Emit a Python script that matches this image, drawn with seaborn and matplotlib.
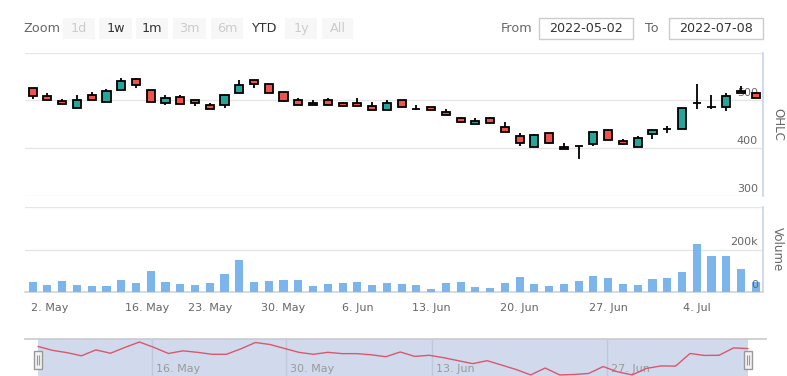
import matplotlib
matplotlib.use('Agg')
import matplotlib.pyplot as plt
from matplotlib.patches import Rectangle
import numpy as np
import seaborn as sns

sns.set_theme(style='white')
plt.rcParams['font.family'] = ['DejaVu Sans']

# ---- data ----
opens = [525.5, 508.5, 498.6, 485.0, 510.6, 496.0, 521.3, 544.7, 521.3, 495.0,
         506.4, 500.0, 491.5, 491.5, 514.9, 542.6, 534.0, 517.0, 500.0, 491.5,
         500.0, 494.3, 494.3, 489.4, 480.9, 501.5, 482.3, 487.2, 476.6, 463.8,
         451.0, 463.8, 444.7, 425.5, 402.1, 432.0, 402.1, 404.0, 408.5, 438.3,
         415.6, 402.1, 430.5, 441.1, 440.4, 495.0, 486.5, 487.2, 519.1, 516.3]
closes = [508.5, 502.0, 493.6, 500.0, 502.0, 519.0, 540.4, 532.0, 497.2, 504.3,
          493.6, 495.0, 482.3, 510.6, 532.6, 534.0, 515.0, 499.3, 491.5, 495.7,
          491.5, 489.4, 489.4, 480.9, 494.3, 487.2, 482.3, 480.9, 470.2, 455.3,
          457.4, 453.2, 434.0, 410.6, 427.7, 410.6, 397.9, 404.0, 434.0, 417.0,
          408.5, 421.3, 438.3, 441.1, 485.1, 495.0, 486.5, 510.0, 514.9, 504.3]
highs = [526.0, 515.6, 503.0, 511.0, 517.0, 523.4, 546.8, 547.5, 521.3, 511.0,
         511.0, 500.0, 495.7, 510.6, 543.3, 542.6, 534.0, 517.0, 505.0, 500.0,
         505.0, 496.5, 505.0, 496.5, 500.0, 501.5, 490.0, 487.2, 481.6, 466.0,
         463.8, 466.0, 454.0, 432.0, 429.8, 432.0, 410.6, 405.0, 434.0, 438.3,
         418.4, 424.8, 438.3, 447.5, 485.1, 534.8, 511.3, 515.6, 529.8, 516.3]
lows = [504.0, 502.0, 493.6, 485.0, 500.0, 496.0, 521.3, 527.0, 497.2, 490.8,
        493.6, 488.7, 482.3, 484.4, 514.9, 527.0, 515.0, 497.2, 490.0, 491.5,
        491.5, 486.5, 489.4, 480.9, 480.9, 487.2, 481.0, 480.9, 470.2, 453.2,
        451.0, 453.2, 434.0, 404.0, 402.1, 408.5, 397.9, 376.6, 404.3, 417.0,
        407.0, 402.1, 418.4, 432.0, 440.4, 483.0, 481.6, 478.0, 514.9, 504.3]
volume_k = [47.6, 33.3, 52.4, 33.3, 28.6, 28.6, 57.1, 42.9, 100.0, 47.6,
            38.1, 33.3, 42.9, 85.7, 152.4, 47.6, 52.4, 57.1, 57.1, 28.6,
            38.1, 42.9, 47.6, 33.3, 42.9, 38.1, 33.3, 14.3, 42.9, 47.6,
            23.8, 19.0, 42.9, 71.4, 38.1, 28.6, 38.1, 52.4, 76.2, 66.7,
            38.1, 33.3, 61.9, 66.7, 95.2, 223.8, 171.4, 171.4, 109.5, 47.6]

date_ticks = [-0.1, 7.75, 12, 17, 22, 27, 33, 39, 45]
date_labels = ['2. May', '16. May', '23. May', '30. May', '6. Jun',
               '13. Jun', '20. Jun', '27. Jun', '4. Jul']
nav_ticks = [7.9, 17.1, 27.2, 39.3]
nav_labels = ['16. May', '30. May', '13. Jun', '27. Jun']

idx = np.arange(len(opens))
opens = np.array(opens)
closes = np.array(closes)
volume = np.array(volume_k) * 1000

UP, DOWN = '#26a69a', '#ef5350'
GRID, AXIS, LABEL = '#e6e6e6', '#ccd6eb', '#666666'

W, H = 787, 376
fig = plt.figure(figsize=(W / 100, H / 100), dpi=100)


def px_axes(x0, y0, x1, y1, **kw):
    return fig.add_axes([x0 / W, 1 - y1 / H, (x1 - x0) / W, (y1 - y0) / H], **kw)


# overlay in pixel coords for the range selector
ui = px_axes(0, 0, W, H)
ui.set_xlim(0, W)
ui.set_ylim(H, 0)
ui.axis('off')

ui.text(42, 28, 'Zoom', ha='center', va='center', fontsize=9.2, color=LABEL)
buttons = [('1d', 63, 95, 'off'), ('1w', 99, 132, 'on'), ('1m', 136, 168, 'on'),
           ('3m', 173, 206, 'off'), ('6m', 211, 243, 'off'), ('YTD', 247, 280, 'sel'),
           ('1y', 285, 317, 'off'), ('All', 322, 353, 'off')]
for lab, x0, x1, state in buttons:
    bg = '#ffffff' if state == 'sel' else '#f7f7f7'
    ui.add_patch(Rectangle((x0, 18), x1 - x0, 21, facecolor=bg, edgecolor='none'))
    ui.text((x0 + x1) / 2, 28.5, lab, ha='center', va='center', fontsize=9.2,
            color='#cccccc' if state == 'off' else '#333333')

ui.text(517, 28, 'From', ha='center', va='center', fontsize=9.2, color=LABEL)
ui.text(652, 28, 'To', ha='center', va='center', fontsize=9.2, color=LABEL)
for x0, x1, txt in [(539, 633, '2022-05-02'), (669, 763, '2022-07-08')]:
    ui.add_patch(Rectangle((x0, 18), x1 - x0, 21, facecolor='white', edgecolor='#cccccc', lw=1))
    ui.text((x0 + x1) / 2, 28.5, txt, ha='center', va='center', fontsize=9.2, color='#333333')

# ---- price pane ----
ax = px_axes(25, 52.7, 763, 196)
ax.patch.set_alpha(0)
ax.set_xlim(-0.52, 49.49)
ax.set_ylim(300, 600)
ax.set_yticks([300, 400, 500, 600])
ax.set_xticks([])
ax.grid(axis='y', color=GRID, lw=1)
ax.tick_params(left=False, right=False, labelleft=False, labelright=False)
for s in ['left', 'top', 'bottom']:
    ax.spines[s].set_visible(False)
ax.spines['right'].set_color(AXIS)
for v in [500, 400, 300]:
    ax.annotate(str(v), xy=(1, v), xycoords=('axes fraction', 'data'),
                xytext=(-5, 7), textcoords='offset pixels', ha='right', va='center',
                fontsize=8, color=LABEL, zorder=1)
ax.text(1.02, 0.5, 'OHLC', transform=ax.transAxes, rotation=-90, ha='center',
        va='center', fontsize=8.6, color=LABEL)

colors = np.where(closes >= opens, UP, DOWN)
ax.vlines(idx, lows, highs, color='black', lw=1.3, zorder=3)
ax.bar(idx, closes - opens, bottom=opens, width=0.55, color=colors,
       edgecolor='black', linewidth=1.3, zorder=4)

# ---- volume pane ----
av = px_axes(25, 207, 763, 292)
av.patch.set_alpha(0)
sns.barplot(x=idx, y=volume, native_scale=True, width=0.55, color='#7cb5ec',
            saturation=1, edgecolor='none', linewidth=0, ax=av, zorder=3)
av.set_xlim(-0.52, 49.49)
av.set_ylim(0, 400000)
av.set_yticks([0, 200000, 400000])
av.grid(axis='y', color=GRID, lw=1)
av.set_xlabel('')
av.set_ylabel('')
av.set_xticks(date_ticks)
av.set_xticklabels(date_labels)
av.tick_params(axis='x', length=5, color=AXIS, width=1, labelsize=8,
               labelcolor=LABEL, pad=3)
av.tick_params(axis='y', left=False, labelleft=False)
av.get_xticklabels()[0].set_horizontalalignment('left')
for s in ['left', 'top']:
    av.spines[s].set_visible(False)
av.spines['right'].set_color(AXIS)
av.spines['bottom'].set_color(AXIS)
for v, lab in [(200000, '200k'), (0, '0')]:
    av.annotate(lab, xy=(1, v), xycoords=('axes fraction', 'data'),
                xytext=(-5, 7), textcoords='offset pixels', ha='right', va='center',
                fontsize=8, color=LABEL, zorder=5)
av.text(1.02, 0.5, 'Volume', transform=av.transAxes, rotation=-90, ha='center',
        va='center', fontsize=8.6, color=LABEL)

# ---- navigator ----
nav = px_axes(25, 339, 766, 379)
nav.patch.set_alpha(0)
nav.set_xlim(-0.897, 50.24)
nav.set_ylim(384.5, 557.7)
nav.axvspan(0, len(opens) - 1, color='#d1daed', lw=0, zorder=1)
for t in nav_ticks:
    nav.axvline(t, color='#c0c9db', lw=1, zorder=2)
for t, lab in zip(nav_ticks, nav_labels):
    nav.annotate(lab, xy=(t, 1), xycoords=('data', 'axes fraction'),
                 xytext=(4, -25), textcoords='offset pixels', ha='left', va='top',
                 fontsize=8, color='#999999')
sns.lineplot(x=idx, y=opens, ax=nav, color='#d9586a', lw=1, zorder=3)
nav.set_xlabel('')
nav.set_ylabel('')
nav.set_xticks([])
nav.set_yticks([])
for s in ['left', 'right', 'bottom']:
    nav.spines[s].set_visible(False)
nav.spines['top'].set_color('#cccccc')
for t in [0, len(opens) - 1]:
    nav.add_patch(Rectangle((t - 0.26, 0.25), 0.52, 0.45, transform=nav.get_xaxis_transform(),
                            facecolor='#f2f2f2', edgecolor='#999999', lw=1, zorder=5))
    nav.vlines([t - 0.08, t + 0.08], 0.35, 0.6, transform=nav.get_xaxis_transform(),
               color='#999999', lw=0.8, zorder=6)

fig.savefig('out.png', dpi=100)
